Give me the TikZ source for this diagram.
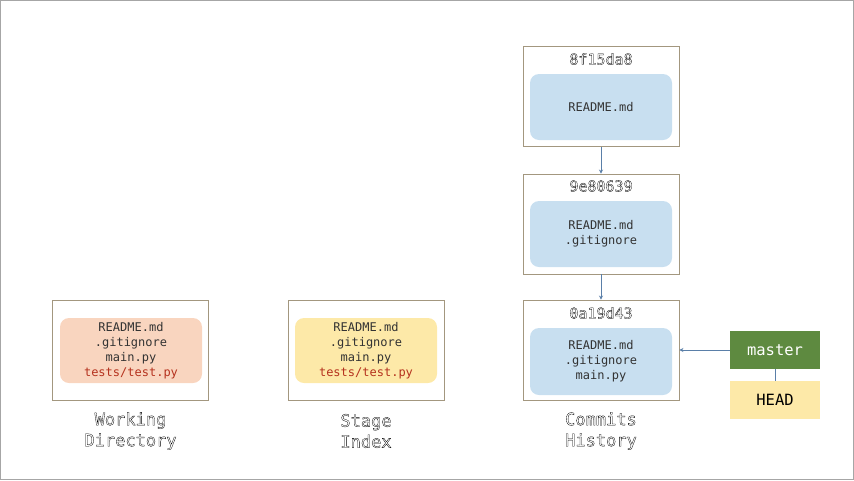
\documentclass[tikz,border=0pt]{standalone}
\usepackage{fontspec}
\setmonofont{DejaVu Sans Mono}
\usetikzlibrary{arrows.meta}
\definecolor{boxline}{HTML}{A3977F}
\definecolor{bluefill}{HTML}{C8DFF0}
\definecolor{orangefill}{HTML}{F9D5BF}
\definecolor{yellowfill}{HTML}{FDE9A8}
\definecolor{redtext}{HTML}{B5321E}
\definecolor{darktext}{HTML}{333333}
\definecolor{greenfill}{HTML}{5E8A40}
\definecolor{arrowcol}{HTML}{5A7FA8}
\newcommand{\outl}[1]{\special{pdf:code 1 Tr 0.3 w}#1\special{pdf:code 0 Tr}}
\tikzset{
  outer/.style={draw=boxline, line width=0.9pt, minimum width=156pt, minimum height=100pt, inner sep=0pt},
  inner/.style={rounded corners=9pt, minimum width=142pt, inner sep=0pt, align=center, text=darktext, font=\ttfamily\fontsize{12}{15}\selectfont},
  hash/.style={font=\ttfamily\fontsize{15}{16}\selectfont, text=black, inner sep=0pt},
  caption/.style={font=\ttfamily\fontsize{17}{21}\selectfont, align=center, inner sep=0pt},
  refbox/.style={minimum width=90pt, minimum height=38pt, inner sep=0pt, font=\ttfamily\fontsize{15.5}{16}\selectfont},
  conn/.style={draw=arrowcol, line width=0.9pt, -{Stealth[length=4pt,width=4pt]}},
}
\begin{document}
\begin{tikzpicture}[x=1pt,y=-1pt]
\useasboundingbox (0,0) rectangle (854,480);
\draw[gray!70, line width=0.8pt] (0.4,0.4) rectangle (853.6,479.6);
% commits
\node[outer] (c1) at (601,96.5) {};
\node[hash] (h1) at (601,59) {\outl{8f15da8}};
\node[inner, fill=bluefill, minimum height=66pt] (f1) at (601,107) {README.md};
\node[outer] (c2) at (601,224) {};
\node[hash] (h2) at (601,186) {\outl{9e80639}};
\node[inner, fill=bluefill, minimum height=66pt] (f2) at (601,234) {README.md\\.gitignore};
\node[outer] (c3) at (601,350) {};
\node[hash] (h3) at (601,313) {\outl{0a19d43}};
\node[inner, fill=bluefill, minimum height=67pt] (f3) at (601,361.5) {README.md\\.gitignore\\main.py};
% working dir
\node[outer] (w) at (130.5,350) {};
\node[inner, fill=orangefill, minimum height=65pt] (wf) at (131,350.5) {README.md\\.gitignore\\main.py\\\textcolor{redtext}{tests/test.py}};
% stage
\node[outer] (s) at (366,350) {};
\node[inner, fill=yellowfill, minimum height=65pt] (sf) at (366,350.5) {README.md\\.gitignore\\main.py\\\textcolor{redtext}{tests/test.py}};
% captions
\node[caption] (lw) at (130.5,431) {\outl{Working}\\\outl{Directory}};
\node[caption] (ls) at (366,431) {\outl{Stage}\\\outl{Index}};
\node[caption] (lc) at (601,431) {\outl{Commits}\\\outl{History}};
% refs
\node[refbox, fill=greenfill, text=white] (m) at (775,350) {master};
\node[refbox, fill=yellowfill, text=black] (hd) at (775,400) {HEAD};
\draw[draw=arrowcol, line width=0.9pt] (m.south) -- (hd.north);
\draw[conn] (m.west) -- (c3.east);
\draw[conn] (c1.south) -- (c2.north);
\draw[conn] (c2.south) -- (c3.north);
\end{tikzpicture}
\end{document}
